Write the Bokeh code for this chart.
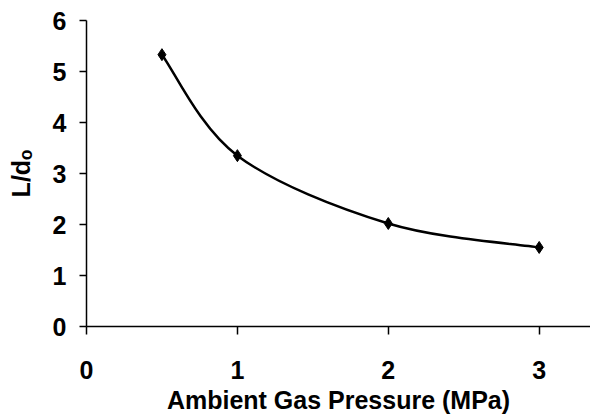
from bokeh.plotting import figure
from bokeh.embed import file_html
from bokeh.resources import INLINE
from bokeh.models import Range1d, FixedTicker

# data
pressure = [0.5, 1.0, 2.0, 3.0]
l_over_d = [5.33, 3.35, 2.02, 1.55]
x_ticks = [0, 1, 2, 3]
y_ticks = [0, 1, 2, 3, 4, 5, 6]

p = figure(frame_width=504, frame_height=306, output_backend="svg", toolbar_location=None,
           x_range=Range1d(0, 3.34), y_range=Range1d(0, 6),
           min_border_left=86, min_border_top=20, min_border_bottom=93, min_border_right=0)
p.outline_line_color = None
p.grid.grid_line_color = None
p.background_fill_color = "white"
p.border_fill_color = "white"

# smoothed line (Catmull-Rom style bezier segments like a spreadsheet's smoothed line)
n = len(pressure)
x0, y0, x1, y1, cx0, cy0, cx1, cy1 = [], [], [], [], [], [], [], []
for i in range(n - 1):
    pm = i - 1 if i > 0 else i
    pp = i + 2 if i + 2 < n else i + 1
    x0.append(pressure[i]); y0.append(l_over_d[i])
    x1.append(pressure[i + 1]); y1.append(l_over_d[i + 1])
    cx0.append(pressure[i] + (pressure[i + 1] - pressure[pm]) / 6)
    cy0.append(l_over_d[i] + (l_over_d[i + 1] - l_over_d[pm]) / 6)
    cx1.append(pressure[i + 1] - (pressure[pp] - pressure[i]) / 6)
    cy1.append(l_over_d[i + 1] - (l_over_d[pp] - l_over_d[i]) / 6)
p.bezier(x0=x0, y0=y0, x1=x1, y1=y1, cx0=cx0, cy0=cy0, cx1=cx1, cy1=cy1,
         line_color="black", line_width=2.5)
p.scatter(pressure, l_over_d, marker="diamond", size=12, color="black")

for ax in (p.xaxis[0], p.yaxis[0]):
    ax.axis_line_color = "black"
    ax.axis_line_width = 1.5
    ax.major_tick_line_color = "black"
    ax.major_tick_line_width = 1.5
    ax.minor_tick_line_color = None
    ax.major_tick_in = 0
    ax.major_label_text_font = "Liberation Sans"
    ax.major_label_text_font_style = "bold"
    ax.major_label_text_font_size = "25px"
    ax.major_label_text_color = "black"
    ax.axis_label_text_font = "Liberation Sans"
    ax.axis_label_text_font_style = "bold"
    ax.axis_label_text_color = "black"
    ax.axis_label_text_font_size = "25px"

p.xaxis.ticker = FixedTicker(ticks=x_ticks)
p.yaxis.ticker = FixedTicker(ticks=y_ticks)
p.xaxis.major_tick_out = 8
p.yaxis.major_tick_out = 7
p.xaxis.major_label_standoff = 26
p.yaxis.major_label_standoff = 13
p.xaxis.axis_label = "Ambient Gas Pressure (MPa)"
p.xaxis.axis_label_standoff = 4
p.yaxis.axis_label = "L/dₒ"
p.yaxis.axis_label_standoff = 15

open("out.html", "w").write(file_html(p, INLINE))
